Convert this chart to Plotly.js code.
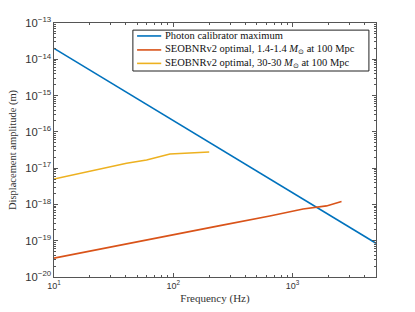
<!DOCTYPE html>
<html>
<head>
<meta charset="utf-8">
<script src="https://cdn.plot.ly/plotly-3.0.1.min.js"></script>
<style>html,body{margin:0;padding:0;background:#fff;}#chart{width:415px;height:312px;}</style>
</head>
<body>
<div id="chart"></div>
<script>
// Photon calibrator maximum
const pcalFreq = [10, 5000];
const pcalAmp = [2.0e-14, 8.5e-20];
// SEOBNRv2 optimal, 1.4-1.4 Msun at 100 Mpc
const bnsFreq = [10, 49, 203, 246, 644, 1224, 1923, 2570];
const bnsAmp = [3.3e-20, 9.4e-20, 2.3e-19, 2.6e-19, 4.8e-19, 7.5e-19, 9.1e-19, 1.2e-18];
// SEOBNRv2 optimal, 30-30 Msun at 100 Mpc
const bbhFreq = [10, 27.6, 40.6, 59.7, 93.7, 200];
const bbhAmp = [5.0e-18, 1.06e-17, 1.36e-17, 1.68e-17, 2.46e-17, 2.79e-17];

const names = [
  'Photon calibrator maximum',
  'SEOBNRv2 optimal, 1.4-1.4 <i>M</i><sub>⊙</sub> at 100 Mpc',
  'SEOBNRv2 optimal, 30-30 <i>M</i><sub>⊙</sub> at 100 Mpc'
];
const colors = ['#0072BD', '#D95319', '#EDB120'];

const xTickVals = [10, 100, 1000];
const xTickText = ['10<sup>1</sup>', '10<sup>2</sup>', '10<sup>3</sup>'];

const traces = [
  {x: pcalFreq, y: pcalAmp, name: names[0]},
  {x: bnsFreq, y: bnsAmp, name: names[1]},
  {x: bbhFreq, y: bbhAmp, name: names[2]}
].map((t, i) => Object.assign(t, {type: 'scatter', mode: 'lines', line: {color: colors[i], width: 1.6}}));

const axisCommon = {
  type: 'log',
  showgrid: false,
  zeroline: false,
  showline: true,
  linecolor: '#555',
  linewidth: 1,
  mirror: 'ticks',
  ticks: 'inside',
  ticklen: 4,
  tickcolor: '#555',
  exponentformat: 'power',
  tickfont: {family: 'Liberation Sans, Arial', size: 9, color: '#333'},
  minor: {ticks: 'inside', ticklen: 2, tickcolor: '#555', dtick: 'D1'}
};

// custom legend (compact, MATLAB-like)
const legRows = [0.949, 0.894, 0.841];
const shapes = [{
  type: 'rect', xref: 'paper', yref: 'paper',
  x0: 0.245, x1: 0.978, y0: 0.811, y1: 0.972,
  line: {color: '#222', width: 1}, fillcolor: '#fff', layer: 'above'
}];
const annotations = [];
names.forEach((n, i) => {
  shapes.push({type: 'line', xref: 'paper', yref: 'paper',
    x0: 0.258, x1: 0.333, y0: legRows[i], y1: legRows[i],
    line: {color: colors[i], width: 1.6}, layer: 'above'});
  annotations.push({xref: 'paper', yref: 'paper', x: 0.337, y: legRows[i],
    xanchor: 'left', yanchor: 'middle', showarrow: false, text: n,
    font: {family: 'Liberation Serif, serif', size: 10.5, color: '#111'}});
});

const layout = {
  width: 415, height: 312,
  margin: {l: 54, r: 39, t: 23, b: 35},
  paper_bgcolor: '#fff', plot_bgcolor: '#fff',
  showlegend: false,
  xaxis: Object.assign({}, axisCommon, {
    range: [1, Math.log10(5000)],
    tickmode: 'array', tickvals: xTickVals, ticktext: xTickText,
    title: {text: 'Frequency (Hz)', font: {family: 'Liberation Serif, serif', size: 11, color: '#333'}, standoff: 4}
  }),
  yaxis: Object.assign({}, axisCommon, {
    range: [-20, -13], dtick: 1,
    title: {text: 'Displacement amplitude (m)', font: {family: 'Liberation Serif, serif', size: 10.5, color: '#333'}, standoff: 6}
  }),
  shapes: shapes,
  annotations: annotations
};

Plotly.newPlot('chart', traces, layout, {staticPlot: true, displayModeBar: false});
</script>
</body>
</html>
